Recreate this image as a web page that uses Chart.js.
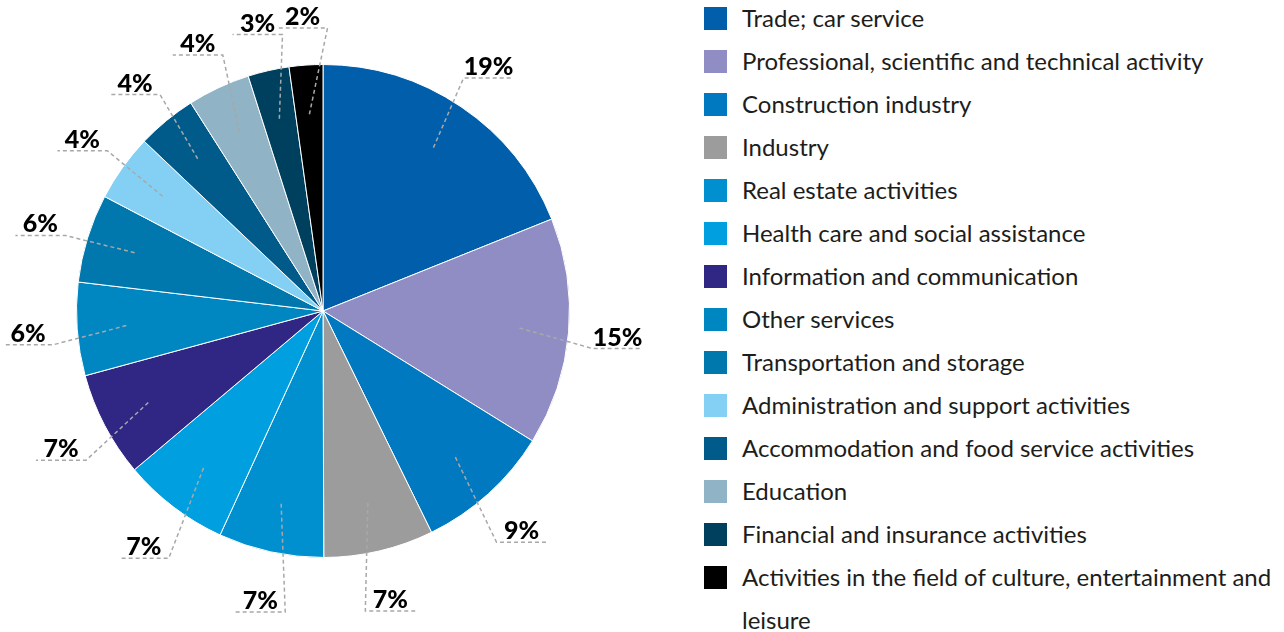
<!DOCTYPE html>
<html lang="en">
<head>
  <meta charset="UTF-8">
  <title>Sectors pie</title>
  <style>
    body, html { margin:0; padding:0; overflow:hidden; background:#fff; }
    #wrap { position:relative; width:1284px; height:632px; }
    canvas#pie { position:absolute; left:0; top:0; }
    #legend { position:absolute; left:704px; top:-4px; width:576px; margin:0; padding:0; list-style:none;
              font-family:Lato, sans-serif; font-size:24px; color:#1d1d1b; }
    #legend li { position:relative; padding-left:38px; line-height:43px; }
    #legend li span { position:absolute; left:0; top:11px; width:23px; height:23px; }
  </style>
</head>
<body>
  <div id="wrap">
    <canvas id="pie" width="700" height="632"></canvas>
    <ul id="legend"></ul>
  </div>

  <script src="https://cdn.jsdelivr.net/npm/chart.js"></script>
  <script>
    const sectors = [
      'Trade; car service',
      'Professional, scientific and technical activity',
      'Construction industry',
      'Industry',
      'Real estate activities',
      'Health care and social assistance',
      'Information and communication',
      'Other services',
      'Transportation and storage',
      'Administration and support activities',
      'Accommodation and food service activities',
      'Education',
      'Financial and insurance activities',
      'Activities in the field of culture, entertainment and leisure'
    ];
    const shares = [18.9, 14.9, 8.9, 7.2, 6.9, 7.0, 6.9, 6.1, 5.8, 4.4, 3.9, 4.1, 2.7, 2.2];
    const pctLabels = ['19%', '15%', '9%', '7%', '7%', '7%', '7%', '6%', '6%', '4%', '4%', '4%', '3%', '2%'];
    const colors = ['#005eab', '#8f8dc4', '#0079c1', '#9c9c9c', '#0090d0', '#009fe0', '#302683',
                    '#0086c0', '#0077ad', '#84d0f5', '#005b8a', '#91b3c6', '#00405f', '#000000'];

    // leader lines + percent labels outside the pie
    const outLabels = {
      id: 'outLabels',
      afterDatasetsDraw(chart) {
        const c = chart.ctx;
        chart.getDatasetMeta(0).data.forEach((arc, i) => {
          const r = arc.outerRadius, mid = (arc.startAngle + arc.endAngle) / 2;
          const dx = Math.cos(mid), dy = Math.sin(mid);
          const x0 = arc.x + dx * r * 0.8, y0 = arc.y + dy * r * 0.8;
          const lx = arc.x + dx * r * 1.2, ly = arc.y + dy * r * 1.2;
          const left = dx < 0;
          const hy = ly + 12;
          const ex = left ? lx + 25 : lx - 25;
          const fx = left ? lx - 25 : lx + 25;
          c.save();
          c.strokeStyle = '#a8a8a8';
          c.lineWidth = 1.5;
          c.setLineDash([4, 3]);
          c.beginPath();
          c.moveTo(x0, y0);
          c.lineTo(ex, hy);
          c.lineTo(fx, hy);
          c.stroke();
          c.setLineDash([]);
          c.fillStyle = '#000';
          c.font = '900 25px Lato, sans-serif';
          c.textAlign = 'center';
          c.textBaseline = 'alphabetic';
          c.fillText(pctLabels[i], lx, hy - 3);
          c.restore();
        });
      }
    };

    new Chart(document.getElementById('pie').getContext('2d'), {
      type: 'pie',
      data: {
        labels: sectors,
        datasets: [{ data: shares, backgroundColor: colors, borderColor: '#fff', borderWidth: 1 }]
      },
      options: {
        responsive: false,
        animation: false,
        layout: { padding: { top: 64, bottom: 74, left: 76, right: 130 } },
        plugins: { legend: { display: false }, tooltip: { enabled: false } }
      },
      plugins: [outLabels]
    });

    const ul = document.getElementById('legend');
    sectors.forEach((s, i) => {
      const li = document.createElement('li');
      li.innerHTML = '<span style="background:' + colors[i] + '"></span>' + s;
      ul.appendChild(li);
    });
  </script>
</body>
</html>
